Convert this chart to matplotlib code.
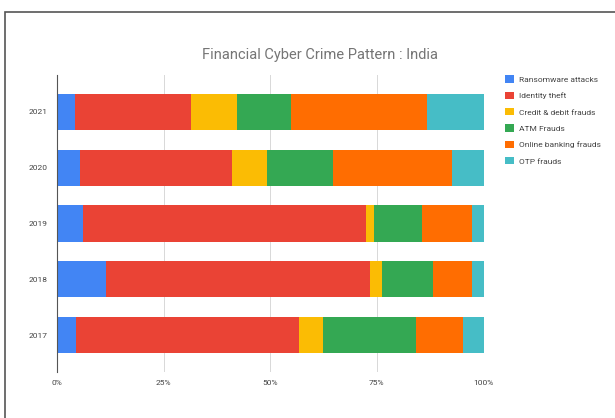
import numpy as np
import matplotlib
matplotlib.use("Agg")
from matplotlib import pyplot as plt
from matplotlib.patches import Rectangle

# data (percent of each year's total)
years = ["2017", "2018", "2019", "2020", "2021"]
ransomware = [4.5, 11.6, 6.0, 5.3, 4.3]
identity_theft = [52.3, 61.7, 66.4, 35.7, 27.2]
card_frauds = [5.6, 3.0, 2.0, 8.3, 10.7]
atm_frauds = [21.7, 11.8, 11.1, 15.3, 12.6]
online_banking = [11.2, 9.2, 11.8, 28.0, 31.9]
otp_frauds = [4.7, 2.7, 2.7, 7.4, 13.3]

series_names = ["Ransomware attacks", "Identity theft", "Credit & debit frauds",
                "ATM Frauds", "Online banking frauds", "OTP frauds"]
colors = ["#4285F4", "#EA4335", "#FBBC04", "#34A853", "#FF6D01", "#46BDC6"]
ticks = [0, 25, 50, 75, 100]
tick_labels = ["0%", "25%", "50%", "75%", "100%"]

plt.rcParams['font.family'] = ['Roboto', 'DejaVu Sans']

fig = plt.figure(figsize=(6.15, 4.18), dpi=100)
ax = fig.add_axes([0.0927, 0.110, 0.6935, 0.7106])

# outer frame
fig.patches.append(Rectangle((5 / 615, -0.05), 1.0, 1 - 12 / 418 + 0.05,
                             transform=fig.transFigure, fill=False,
                             edgecolor="#555555", linewidth=1.2))

data = np.array([ransomware, identity_theft, card_frauds, atm_frauds,
                 online_banking, otp_frauds])
data = data / data.sum(axis=0) * 100
y = np.arange(len(years))
left = np.zeros(len(years))
for vals, name, c in zip(data, series_names, colors):
    ax.barh(y, vals, left=left, height=0.65, color=c, label=name, zorder=2)
    left += vals

ax.set_xlim(0, 100)
ax.set_ylim(-0.66, 4.66)
ax.set_xticks(ticks)
ax.set_xticklabels(tick_labels)
ax.set_yticks(y)
ax.set_yticklabels(years)
ax.tick_params(axis="both", length=0, labelsize=6, colors="#444444")
ax.tick_params(axis="x", pad=6)
ax.tick_params(axis="y", pad=7)
ax.grid(axis="x", color="#d8d8d8", linewidth=0.7, zorder=0)
for s in ["top", "right", "bottom"]:
    ax.spines[s].set_visible(False)
ax.spines["left"].set_color("#555555")
ax.spines["left"].set_linewidth(0.8)

fig.text(0.52, 1 - 55 / 418, "Financial Cyber Crime Pattern : India",
         ha="center", va="center", fontsize=10.5, color="#757575")

ax.legend(loc="upper left", bbox_to_anchor=(502 / 615, 1 - 72 / 418),
          bbox_transform=fig.transFigure, frameon=False, fontsize=6,
          handlelength=1.0, handleheight=1.0, handletextpad=0.6,
          labelspacing=1.05, labelcolor="#444444", borderaxespad=0)

plt.savefig("out.png", dpi=100)
